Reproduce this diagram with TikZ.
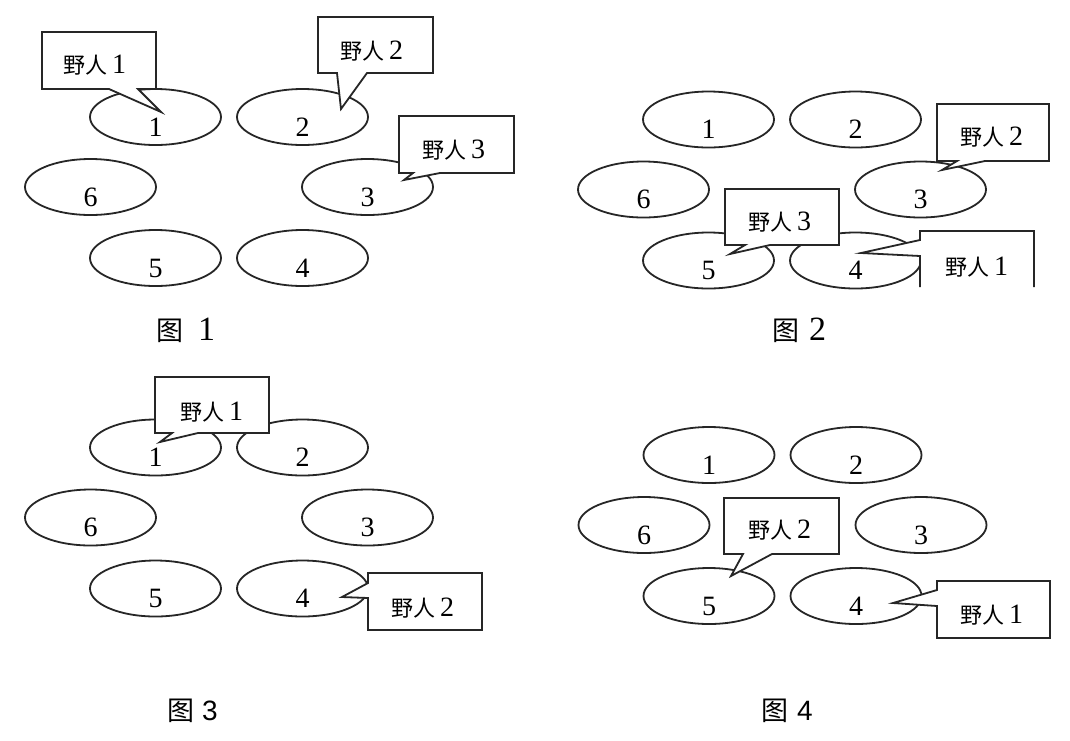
\documentclass[tikz,border=0pt]{standalone}
\usepackage{fontspec}
\setmainfont{Liberation Serif}
\newfontfamily\cjk{Noto Sans CJK SC}
\newfontfamily\arialf{Liberation Sans}
\usetikzlibrary{shapes.geometric}
\tikzset{
  ell/.style={ellipse, draw=black!85, line width=1.8pt, minimum width=131pt, minimum height=56pt, inner sep=0pt},
  num/.style={font=\fontsize{28}{30}\selectfont, inner sep=0pt},
  cbox/.style={draw=black!85, line width=1.8pt, fill=white, line join=miter},
  cline/.style={draw=black!85, line width=1.8pt, line join=miter},
  ctext/.style={anchor=west, inner sep=0pt, font=\fontsize{22}{26}\selectfont},
  captext/.style={anchor=west, inner sep=0pt}
}
\newcommand\yrtext[1]{{\cjk 野人}\hspace{5pt}{\fontsize{28}{30}\selectfont #1}}
\newcommand\sixells[3]{%
  \begin{scope}[shift={(#2,#3)}]
    \node[ell,label={[num,yshift=-10pt]center:1}] (#1e1) at (155.5,117) {};
    \node[ell,label={[num,yshift=-10pt]center:2}] (#1e2) at (302.5,117) {};
    \node[ell,label={[num,yshift=-10pt]center:3}] (#1e3) at (367.5,187) {};
    \node[ell,label={[num,yshift=-10pt]center:4}] (#1e4) at (302.5,258) {};
    \node[ell,label={[num,yshift=-10pt]center:5}] (#1e5) at (155.5,258) {};
    \node[ell,label={[num,yshift=-10pt]center:6}] (#1e6) at (90.5,187) {};
  \end{scope}}
\begin{document}
\begin{tikzpicture}[x=1pt,y=-1pt]
\useasboundingbox[fill=white] (0,0) rectangle (1070,740);

% ---------- Figure 1 ----------
\sixells{a}{0}{0}
\path[cbox] (42,32) -- (156,32) -- (156,89) -- (138,89) -- (161,112) -- (109,89) -- (42,89) -- cycle;
\node[ctext] (a1t) at (63,65) {\yrtext{1}};
\path[cbox] (318,17) -- (433,17) -- (433,73) -- (367,73) -- (341,109) -- (337,73) -- (318,73) -- cycle;
\node[ctext] (a2t) at (340,51) {\yrtext{2}};
\path[cbox] (399,116) -- (514,116) -- (514,173) -- (440,173) -- (404,180) -- (413,173) -- (399,173) -- cycle;
\node[ctext] (a3t) at (422,150) {\yrtext{3}};
\node[captext] (cap1) at (156,330) {{\cjk\fontsize{27}{30}\selectfont 图}\hspace{15pt}{\fontsize{34}{38}\selectfont 1}};

% ---------- Figure 2 ----------
\sixells{b}{553}{2.5}
\path[cbox] (937,104) -- (1049,104) -- (1049,161) -- (985,161) -- (942,170) -- (957,161) -- (937,161) -- cycle;
\node[ctext] (b2t) at (960,137) {\yrtext{2}};
\path[cbox] (725,189) -- (839,189) -- (839,245) -- (770,245) -- (730,254) -- (745,245) -- (725,245) -- cycle;
\node[ctext] (b3t) at (748,222) {\yrtext{3}};
\fill[white] (920,287) -- (920,256) -- (861,253) -- (920,240) -- (920,231) -- (1034,231) -- (1034,287) -- cycle;
\draw[cline] (920,287) -- (920,256) -- (861,253) -- (920,240) -- (920,231) -- (1034,231) -- (1034,287);
\node[ctext] (b1t) at (945,267) {\yrtext{1}};
\node[captext] (cap2) at (772,330) {{\cjk\fontsize{27}{30}\selectfont 图}\hspace{10pt}{\fontsize{34}{38}\selectfont 2}};

% ---------- Figure 3 ----------
\sixells{c}{0}{330.5}
\path[cbox] (155,377) -- (269,377) -- (269,433) -- (198,433) -- (160,442) -- (172,433) -- (155,433) -- cycle;
\node[ctext] (c1t) at (180,412) {\yrtext{1}};
\path[cbox] (368,573) -- (482,573) -- (482,630) -- (368,630) -- (368,598) -- (342,597) -- (368,583) -- cycle;
\node[ctext] (c2t) at (391,608) {\yrtext{2}};
\node[captext] (cap3) at (167,711) {{\cjk\fontsize{27}{30}\selectfont 图}\hspace{8pt}{\arialf\fontsize{28}{32}\selectfont 3}};

% ---------- Figure 4 ----------
\sixells{d}{553.5}{338}
\path[cbox] (724,498) -- (839,498) -- (839,554) -- (772,554) -- (731,576) -- (743,554) -- (724,554) -- cycle;
\node[ctext] (d2t) at (748,530) {\yrtext{2}};
\path[cbox] (937,581) -- (1050,581) -- (1050,638) -- (937,638) -- (937,606) -- (893,603) -- (937,590) -- cycle;
\node[ctext] (d1t) at (960,615) {\yrtext{1}};
\node[captext] (cap4) at (761,711) {{\cjk\fontsize{27}{30}\selectfont 图}\hspace{9pt}{\arialf\fontsize{28}{32}\selectfont 4}};
\end{tikzpicture}
\end{document}
